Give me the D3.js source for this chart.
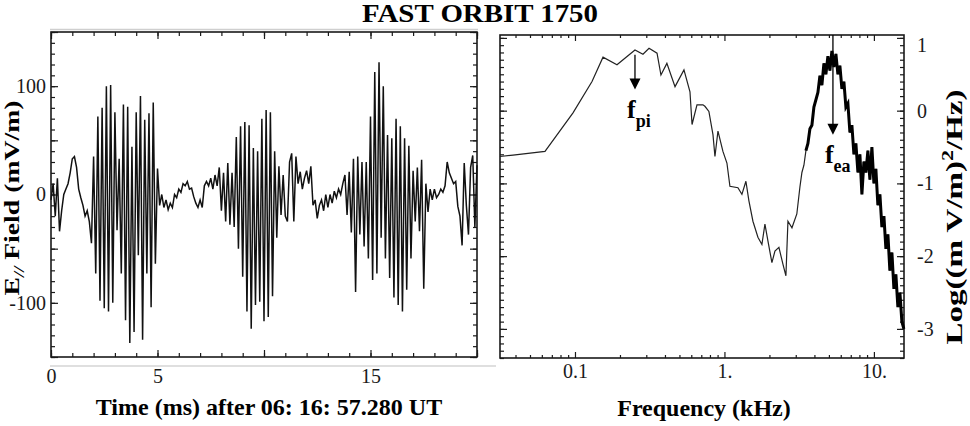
<!DOCTYPE html>
<html>
<head>
<meta charset="utf-8">
<script src="https://cdn.jsdelivr.net/npm/d3@7"></script>
<style>
  body { margin: 0; background: #fff; }
  svg { display: block; font-family: "Liberation Serif", "Times New Roman", serif; }
</style>
</head>
<body>
<svg id="chart" width="970" height="426"></svg>
<script>
var title = 'FAST ORBIT 1750';

// left panel: parallel E field, sampled every 0.1 ms
var timeStep = 0.1;
var efield = [
  -5, 10, -20, 15, -34, -15, 0, 5, 10, 20,
  33, 35, 25, 5, -3, -10, -20, -15, -25, -45,
  35, -73, 72, -98, 80, -105, 100, -108, 101, -100,
  76, -33, 33, -73, 83, -116, 81, -137, 44, -127,
  76, -56, 91, -134, 69, -73, 75, -104, 85, -64,
  24, -10, 0, -12, -5, -14, -8, -12, 0, -3,
  5, 2, 10, 8, 12, 5, 6, -2, -8, -12,
  -5, -12, 8, 12, 8, 15, 5, 18, 8, 25,
  -15, 20, -25, 29, -28, 20, -30, 53, -50, 63,
  -76, 67, -108, 64, -124, 43, -102, 40, -99, 70,
  -117, 78, -113, 76, -94, 40, -40, 26, -19, 18,
  -20, -25, 30, 38, -25, 35, 10, 21, 5, 15,
  22, 10, 26, -10, -5, -22, -10, -5, -15, 0,
  -12, 0, -8, 3, -3, 5, 0, 10, 18, -19,
  21, -35, 33, -90, 35, -37, 30, -48, 30, -59,
  72, -79, 113, -73, 122, -40, 100, -59, 55, -77,
  52, -95, 70, -102, 63, -108, 52, -88, 45, -59,
  22, -25, 25, -34, 32, -87, 10, -16, 5, -5,
  5, -3, 0, 5, 2, 8, 30, 20, 15, 10,
  12, -11, -20, -47, 29, -10, -37, 25, 36, -30,
  27
];
var timeLabels = [0, 5, 15];
var fieldLabels = [-100, 0, 100];

// right panel: spectrum, kHz vs log power
var freqs = [
  0.0315, 0.0385, 0.063, 0.097, 0.130, 0.154, 0.191, 0.223, 0.252, 0.285,
  0.313, 0.354, 0.376, 0.412, 0.467, 0.536, 0.588, 0.607, 0.655, 0.718,
  0.740, 0.787, 0.838, 0.864, 0.905, 0.977, 1.039, 1.088, 1.231, 1.309,
  1.392, 1.458, 1.551, 1.675, 1.781, 1.866, 1.954, 2.078, 2.177, 2.315,
  2.462, 2.578, 2.66, 2.83, 3.05,
  3.199, 3.299, 3.402, 3.509, 3.619, 3.732, 3.848, 3.968, 4.093, 4.221,
  4.353, 4.489, 4.629, 4.774, 4.923, 5.077, 5.236, 5.400, 5.569, 5.743,
  5.922, 6.108, 6.299, 6.496, 6.699, 6.909, 7.125, 7.348, 7.578, 7.815,
  8.060, 8.312, 8.572, 8.841, 9.117, 9.402, 9.696, 10.00, 10.31, 10.63,
  10.97, 11.31, 11.67, 12.03, 12.41, 12.79, 13.20, 13.61, 14.03, 14.47,
  14.93, 15.39, 15.87
];
var power = [
  -0.63, -0.61, -0.56, -0.03, 0.40, 0.735, 0.63, 0.745, 0.835, 0.776,
  0.858, 0.79, 0.49, 0.65, 0.33, 0.56, 0.26, -0.19, 0.08, 0.08,
  0.06, -0.01, -0.33, -0.63, -0.28, -0.56, -0.72, -1.04, -1.06, -1.15,
  -0.97, -1.24, -1.52, -1.74, -1.84, -1.56, -1.79, -2.09, -1.93, -1.88,
  -2.11, -2.27, -1.52, -1.61, -1.42,
  -1.05, -0.85, -0.75, -0.55, -0.45, -0.25, -0.2, 0.05, 0.15, 0.25,
  0.48, 0.35, 0.65, 0.5, 0.75, 0.55, 0.82, 0.6, 0.78, 0.5,
  0.62, 0.3, 0.4, 0.05, 0.1, -0.3, -0.2, -0.6, -0.45, -0.85,
  -0.6, -1.15, -0.7, -0.85, -0.55, -0.95, -0.5, -1.0, -0.8, -1.3,
  -1.15, -1.6, -1.45, -1.9, -1.7, -2.2, -1.95, -2.45, -2.25, -2.7,
  -2.5, -2.9, -3.0
];
var freqLabels = ['0.1', '1.', '10.'];
var freqMajor = [0.1, 1, 10];
var powerLabels = [1, 0, -1, -2, -3];

var markerNames = ['pi', 'ea'];
var markerFreqs = [0.252, 5.32];
var markerFrom = [0.77, 1.04];
var markerTo = [0.29, -0.33];

var svg = d3.select('#chart');
var ink = '#1a1a1a';

var L = { x0: 51, x1: 477, y0: 32, y1: 357 };
var R = { x0: 500, x1: 904, y0: 35, y1: 358 };

var xT = d3.scaleLinear().domain([0, 20]).range([L.x0, L.x1]);
var yE = d3.scaleLinear().domain([-150, 150]).range([L.y1, L.y0]);
var xF = d3.scaleLog().domain([0.0315, 15.9]).range([R.x0, R.x1]);
var yP = d3.scaleLinear().domain([-3.4, 1.04]).range([R.y1, R.y0]);

// scan edge lines
svg.append('line').attr('x1', 50).attr('x2', 478).attr('y1', 29.5).attr('y2', 29.5)
  .attr('stroke', '#cfcfcf').attr('stroke-width', 1.5);
svg.append('line').attr('x1', 50).attr('x2', 496).attr('y1', 366).attr('y2', 366)
  .attr('stroke', '#d5d5d5').attr('stroke-width', 1.5);

var inward = (axis, pos, horiz, values, size) => {
  svg.append('g')
    .attr('transform', horiz ? `translate(0,${pos})` : `translate(${pos},0)`)
    .call(axis.tickValues(values).tickSize(-size).tickFormat(''))
    .call(g => g.select('.domain').remove())
    .selectAll('line').attr('stroke', ink).attr('stroke-width', 1.2);
};

var labels = (axis, pos, horiz, values, fmt, pad) => {
  return svg.append('g')
    .attr('transform', horiz ? `translate(0,${pos})` : `translate(${pos},0)`)
    .call(axis.tickValues(values).tickSize(0).tickPadding(pad).tickFormat(fmt))
    .call(g => g.select('.domain').remove())
    .call(g => g.selectAll('text').attr('font-size', 20).attr('fill', ink)
      .attr('font-family', '"Liberation Serif", serif'));
};

// ---- left panel ticks
var tMinor = d3.range(0, 21, 1);
var tMajor = [0, 5, 10, 15, 20];
var eMinor = d3.range(-150, 151, 10);
var eMajor = [-150, -100, -50, 0, 50, 100, 150];

inward(d3.axisBottom(xT), L.y1, true, tMinor, 4);
inward(d3.axisBottom(xT), L.y1, true, tMajor, 7);
inward(d3.axisTop(xT), L.y0, true, tMinor, 4);
inward(d3.axisTop(xT), L.y0, true, tMajor, 7);
inward(d3.axisLeft(yE), L.x0, false, eMinor, 4);
inward(d3.axisLeft(yE), L.x0, false, eMajor, 7);
inward(d3.axisRight(yE), L.x1, false, eMinor, 4);
inward(d3.axisRight(yE), L.x1, false, eMajor, 7);

labels(d3.axisBottom(xT), L.y1, true, timeLabels, d => d, 12);
labels(d3.axisLeft(yE), L.x0, false, fieldLabels, d => d, 5);

// ---- right panel ticks
var fMinor = [];
[0.01, 0.1, 1].forEach(dec => d3.range(2, 10).forEach(k => fMinor.push(k * dec)));
fMinor = fMinor.filter(v => v >= 0.0315 && v <= 15.9);
var pMinor = d3.range(-34, 11, 1).map(v => v / 10);
var pMajor = [-3, -2, -1, 0, 1];

inward(d3.axisBottom(xF), R.y1, true, fMinor, 3);
inward(d3.axisBottom(xF), R.y1, true, freqMajor, 6);
inward(d3.axisTop(xF), R.y0, true, fMinor, 3);
inward(d3.axisTop(xF), R.y0, true, freqMajor, 6);
inward(d3.axisLeft(yP), R.x0, false, pMinor, 4);
inward(d3.axisLeft(yP), R.x0, false, pMajor, 7);
inward(d3.axisRight(yP), R.x1, false, pMinor, 4);
inward(d3.axisRight(yP), R.x1, false, pMajor, 7);

labels(d3.axisBottom(xF), R.y1, true, freqMajor, (d, i) => freqLabels[i], 6);
var pl = labels(d3.axisRight(yP), R.x1, false, powerLabels, d => d, 13);
pl.selectAll('text').filter(d => d === 1).attr('dy', '0.7em');

// ---- frames
[L, R].forEach(p => {
  svg.append('rect')
    .attr('x', p.x0).attr('y', p.y0)
    .attr('width', p.x1 - p.x0).attr('height', p.y1 - p.y0)
    .attr('fill', 'none').attr('stroke', ink).attr('stroke-width', 1.6);
});

// ---- time series
var line1 = d3.line()
  .x((d, i) => xT(i * timeStep))
  .y(d => yE(d));

svg.append('path')
  .datum(efield)
  .attr('d', line1)
  .attr('fill', 'none')
  .attr('stroke', '#111')
  .attr('stroke-width', 1.5)
  .attr('stroke-linejoin', 'miter');

// ---- spectrum
var spec = power.map((p, i) => ({ f: freqs[i], p: p }));
var line2 = d3.line()
  .x(d => xF(d.f))
  .y(d => yP(d.p));

svg.append('path')
  .datum(spec)
  .attr('d', line2)
  .attr('fill', 'none')
  .attr('stroke', '#222')
  .attr('stroke-width', 1.2);

// the electron-acoustic band is drawn heavier, as in the scan
svg.append('path')
  .datum(spec.filter(d => d.f >= 3.5))
  .attr('d', line2)
  .attr('fill', 'none')
  .attr('stroke', '#000')
  .attr('stroke-width', 3);

// ---- frequency markers
markerNames.forEach((name, i) => {
  var x = xF(markerFreqs[i]);
  var ya = yP(markerFrom[i]);
  var yb = yP(markerTo[i]);
  svg.append('line').attr('x1', x).attr('x2', x).attr('y1', ya).attr('y2', yb - 8)
    .attr('stroke', '#000').attr('stroke-width', 1.3);
  svg.append('path')
    .attr('d', `M${x - 5.5},${yb - 11}L${x + 5.5},${yb - 11}L${x},${yb}Z`)
    .attr('fill', '#000');
  var t = svg.append('text')
    .attr('x', x - 8).attr('y', yb + 28)
    .attr('font-weight', 'bold').attr('font-size', 26).attr('fill', '#000');
  t.append('tspan').text('f');
  t.append('tspan').attr('dy', 9).attr('font-size', 18).text(name);
});

// ---- titles
svg.append('text')
  .attr('x', 480).attr('y', 22)
  .attr('text-anchor', 'middle')
  .attr('font-weight', 'bold').attr('font-size', 25)
  .attr('textLength', 236).attr('lengthAdjust', 'spacingAndGlyphs')
  .text(title);

svg.append('text')
  .attr('x', 269).attr('y', 415)
  .attr('text-anchor', 'middle')
  .attr('font-weight', 'bold').attr('font-size', 24)
  .text('Time (ms) after 06: 16: 57.280 UT');

svg.append('text')
  .attr('x', 704).attr('y', 416)
  .attr('text-anchor', 'middle')
  .attr('font-weight', 'bold').attr('font-size', 24)
  .text('Frequency (kHz)');

var yl = svg.append('text')
  .attr('transform', 'translate(19,198) rotate(-90)')
  .attr('text-anchor', 'middle')
  .attr('font-weight', 'bold').attr('font-size', 21)
  .attr('textLength', 195).attr('lengthAdjust', 'spacingAndGlyphs');
yl.append('tspan').text('E');
yl.append('tspan').attr('dy', 5).attr('font-size', 14).attr('font-style', 'italic').text('//');
yl.append('tspan').attr('dy', -5).text(' Field (mV/m)');

var yr = svg.append('text')
  .attr('transform', 'translate(962,217) rotate(-90)')
  .attr('text-anchor', 'middle')
  .attr('font-weight', 'bold').attr('font-size', 24)
  .attr('textLength', 255).attr('lengthAdjust', 'spacingAndGlyphs');
yr.append('tspan').text('Log((m V/m)');
yr.append('tspan').attr('dy', -9).attr('font-size', 16).text('2');
yr.append('tspan').attr('dy', 9).text('/Hz)');
</script>
</body>
</html>
